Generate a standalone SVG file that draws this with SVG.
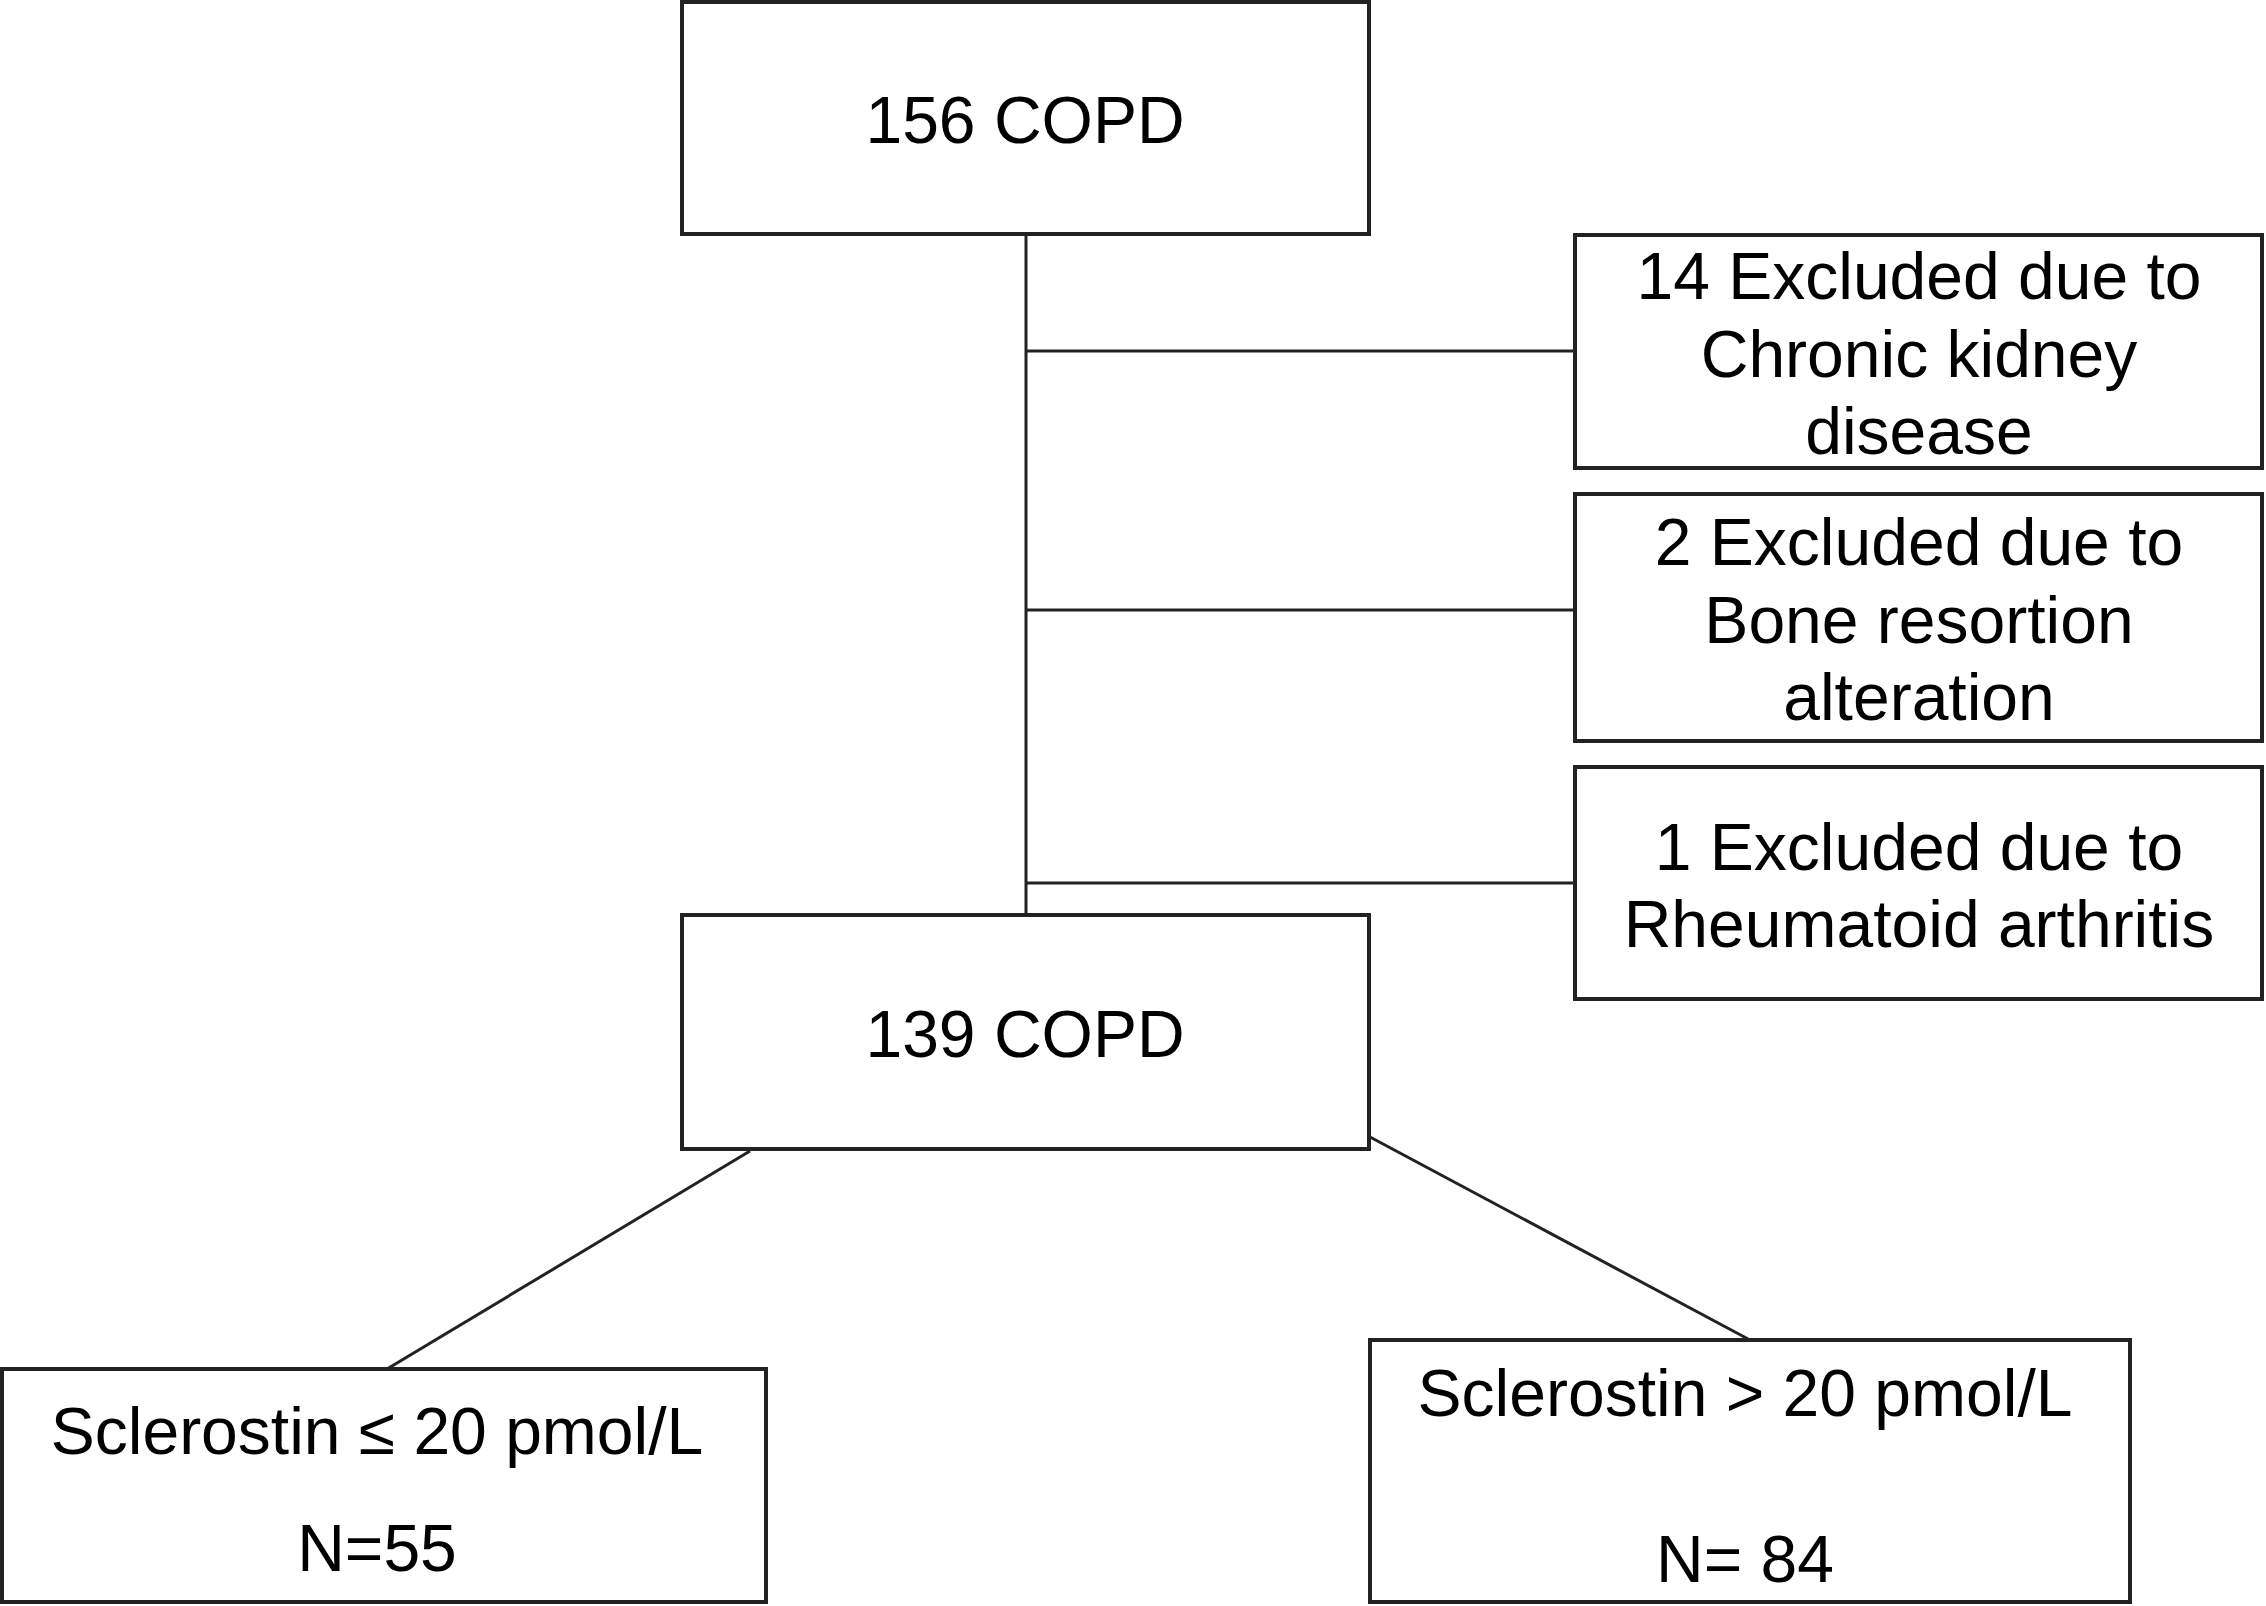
<svg xmlns="http://www.w3.org/2000/svg" width="2266" height="1606" viewBox="0 0 2266 1606">
<style>
.box{fill:#fff;stroke:#222;stroke-width:4}
.ln{stroke:#222;stroke-width:3;fill:none}
text{font-family:"Liberation Sans",Arial,sans-serif;font-size:66px;fill:#000;text-anchor:middle}
</style>
<rect width="2266" height="1606" fill="#fff"/>
<g id="connectors">
<line class="ln" x1="1026" y1="234" x2="1026" y2="915"/>
<line class="ln" x1="1026" y1="351" x2="1575" y2="351"/>
<line class="ln" x1="1026" y1="610" x2="1575" y2="610"/>
<line class="ln" x1="1026" y1="883" x2="1575" y2="883"/>
<line class="ln" x1="750" y1="1151" x2="387" y2="1369"/>
<line class="ln" x1="1370" y1="1137" x2="1750" y2="1340"/>
</g>
<g id="n156">
<rect class="box" x="682" y="2" width="687" height="232"/>
<text x="1025" y="143">156 COPD</text>
</g>
<g id="ex14">
<rect class="box" x="1575" y="235" width="687" height="233"/>
<text x="1919" y="299">14 Excluded due to</text>
<text x="1919" y="377">Chronic kidney</text>
<text x="1919" y="454">disease</text>
</g>
<g id="ex2">
<rect class="box" x="1575" y="494" width="687" height="247"/>
<text x="1919" y="565">2 Excluded due to</text>
<text x="1919" y="643">Bone resortion</text>
<text x="1919" y="720">alteration</text>
</g>
<g id="ex1">
<rect class="box" x="1575" y="767" width="687" height="232"/>
<text x="1919" y="870">1 Excluded due to</text>
<text x="1919" y="947">Rheumatoid arthritis</text>
</g>
<g id="n139">
<rect class="box" x="682" y="915" width="687" height="234"/>
<text x="1025" y="1057">139 COPD</text>
</g>
<g id="low">
<rect class="box" x="2" y="1369" width="764" height="233"/>
<text x="377" y="1454">Sclerostin ≤ 20 pmol/L</text>
<text x="377" y="1571">N=55</text>
</g>
<g id="high">
<rect class="box" x="1370" y="1340" width="760" height="262"/>
<text x="1745" y="1416">Sclerostin &gt; 20 pmol/L</text>
<text x="1745" y="1582">N= 84</text>
</g>
</svg>
